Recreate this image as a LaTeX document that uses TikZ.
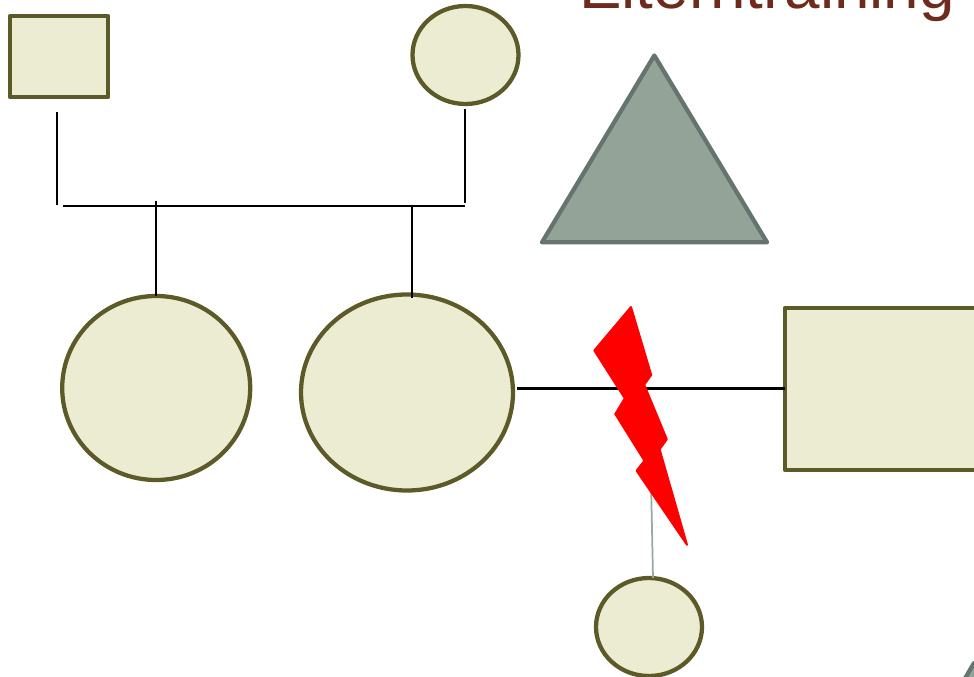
\documentclass[tikz,border=0pt]{standalone}
\usepackage{fontspec}
\setmainfont{Liberation Sans}
\usetikzlibrary{shapes.geometric}
\definecolor{olivelin}{HTML}{5C5A28}
\definecolor{creamfill}{HTML}{ECECD2}
\definecolor{titlered}{HTML}{6E2A1C}
\definecolor{greyfill}{HTML}{94A398}
\definecolor{greyline}{HTML}{667470}
\definecolor{thinline}{HTML}{9AA8A0}
\tikzset{
  boxnode/.style={draw=olivelin,fill=creamfill,line width=3.2pt,line join=round,rectangle,inner sep=0pt,outer sep=0pt},
  roundnode/.style={draw=olivelin,fill=creamfill,line width=3.2pt,ellipse,inner sep=0pt,outer sep=0pt},
  conn/.style={draw=black,line width=1.6pt},
  tri/.style={draw=greyline,fill=greyfill,line width=3.2pt,line join=round},
}
\begin{document}
\begin{tikzpicture}[x=0.75pt,y=-0.75pt]
\useasboundingbox (0,0) rectangle (974,677);
\clip (0,0) rectangle (974,677);
\node[anchor=base west,inner sep=0pt,text=titlered,font=\fontsize{47.8pt}{50pt}\selectfont] (title) at (579,9) {Elterntraining};
\node[boxnode,minimum width=73.5pt,minimum height=60.75pt] (topbox) at (59,56.5) {};
\node[roundnode,minimum width=79.5pt,minimum height=73.5pt] (topround) at (465.5,55) {};
\node[roundnode,minimum width=141pt,minimum height=138pt] (leftround) at (156.2,388) {};
\node[roundnode,minimum width=159pt,minimum height=147pt] (midround) at (407,392.5) {};
\node[boxnode,minimum width=157.5pt,minimum height=121.5pt] (rightbox) at (890,389) {};
\node[roundnode,minimum width=79.5pt,minimum height=73.5pt] (lowround) at (649,627) {};
\path[tri] (654.3,55.5) -- (767,242.3) -- (542,242.3) -- cycle;
\path[tri] (974,663) -- (1050,790) -- (900,790) -- cycle;
\coordinate (a1) at (57,112);
\coordinate (a2) at (57,205);
\coordinate (b1) at (63,206);
\coordinate (b2) at (465,206);
\coordinate (c1) at (465,109);
\coordinate (c2) at (465,203);
\coordinate (d1) at (156.2,201);
\coordinate (e1) at (412,205);
\coordinate (e2) at (412,298);
\coordinate (f1) at (517,388.5);
\coordinate (g1) at (651,480);
\draw[conn] (a1) -- (a2);
\draw[conn] (b1) -- (b2);
\draw[conn] (c1) -- (c2);
\draw[conn] (d1) -- (leftround.north);
\draw[conn] (e1) -- (e2);
\draw[conn] (f1) -- (rightbox.west |- f1);
\draw[draw=thinline,line width=1.3pt] (g1) -- (lowround.north -| 653,0);
\fill[red,draw=red,line width=1.5pt,line join=round] (631,307) -- (594.3,350.5) -- (624.8,398.3) -- (615.3,414) -- (644.5,460.7) -- (636.6,470.7) -- (687,544.8) -- (659.6,449.3) -- (666.8,439.3) -- (644.2,384.7) -- (651.2,375) -- cycle;
\end{tikzpicture}
\end{document}
